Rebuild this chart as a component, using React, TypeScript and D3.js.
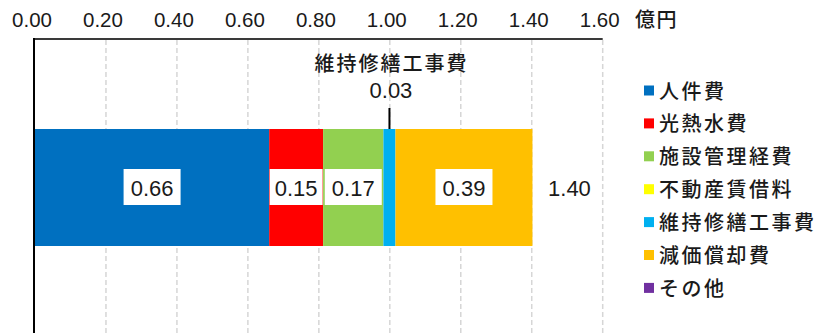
import React from "react";
import * as d3 from "d3";

const categories = ["合計"];
const seriesNames = ["人件費", "光熱水費", "施設管理経費", "不動産賃借料", "維持修繕工事費", "減価償却費", "その他"];
const seriesValues = [0.66, 0.152, 0.17, 0, 0.034, 0.386, 0];
const seriesColors = ["#0070C0", "#FF0000", "#92D050", "#FFFF00", "#00B0F0", "#FFC000", "#7030A0"];
const xTicks = [0, 0.2, 0.4, 0.6, 0.8, 1.0, 1.2, 1.4, 1.6];
const unitLabel = "億円";
const calloutSeries = "維持修繕工事費";

const W = 816;
const H = 333;
const NUM_FONT = "'Liberation Sans', Arial, 'Noto Sans CJK JP', sans-serif";
const JP_FONT = "'Noto Sans CJK JP', 'Noto Sans', sans-serif";
const TEXT = "#1a1a1a";

export default function App() {
  const x = d3.scaleLinear().domain([0, 1.6]).range([35, 602.7]);
  const y = d3.scaleBand<string>().domain(categories).range([39, 336]).paddingInner(0.4348).paddingOuter(0.4348);

  const row: Record<string, any> = { cat: categories[0] };
  seriesNames.forEach((n, i) => (row[n] = seriesValues[i]));
  const stacked = d3.stack<any>().keys(seriesNames)([row]);
  const total = d3.sum(seriesValues);

  const by = y(categories[0]) as number;
  const bh = y.bandwidth();
  const cy = by + bh / 2;

  const legendX = 644;
  const legendY0 = 90.5;
  const legendStep = 32.9;

  return (
    <svg width={W} height={H} style={{ position: "absolute", left: 0, top: 0, background: "#fff" }}>
      {/* gridlines */}
      {xTicks.slice(1).map((t) => (
        <line key={"g" + t} x1={x(t)} x2={x(t)} y1={40} y2={H} stroke="#d6d6d6" strokeWidth={1.5} strokeDasharray="5,3" />
      ))}
      {/* bars */}
      {stacked.map((s, i) => {
        const d = s[0];
        const x0 = x(d[0]);
        const x1 = x(d[1]);
        if (x1 - x0 <= 0) return null;
        return <rect key={"b" + i} x={x0} y={by} width={x1 - x0} height={bh} fill={seriesColors[i]} />;
      })}
      {/* data labels */}
      {stacked.map((s, i) => {
        const d = s[0];
        const v = seriesValues[i];
        if (v <= 0 || seriesNames[i] === calloutSeries) return null;
        const x0 = x(d[0]);
        const x1 = x(d[1]);
        const cx = (x0 + x1) / 2;
        const bw = Math.min(57, x1 - x0 - 1);
        return (
          <g key={"l" + i}>
            <rect x={cx - bw / 2} y={cy - 18.5} width={bw} height={36} fill="#fff" />
            <text x={cx} y={cy + 8.5} textAnchor="middle" fontFamily={NUM_FONT} fontSize={22} fill={TEXT}>
              {v.toFixed(2)}
            </text>
          </g>
        );
      })}
      {/* callout */}
      {stacked.map((s, i) => {
        if (seriesNames[i] !== calloutSeries) return null;
        const d = s[0];
        const cx = (x(d[0]) + x(d[1])) / 2;
        return (
          <g key="callout">
            <line x1={cx} x2={cx} y1={108} y2={by} stroke="#000" strokeWidth={2} />
            <text x={cx + 1.5} y={98} textAnchor="middle" fontFamily={NUM_FONT} fontSize={22} fill={TEXT}>
              {seriesValues[i].toFixed(2)}
            </text>
            <text x={cx + 2} y={71} textAnchor="middle" fontFamily={JP_FONT} fontWeight={500} fontSize={20} letterSpacing={2} fill={TEXT}>
              {seriesNames[i]}
            </text>
          </g>
        );
      })}
      {/* total */}
      <text x={x(total) + 37} y={cy + 8.5} textAnchor="middle" fontFamily={NUM_FONT} fontSize={22} fill={TEXT}>
        {total.toFixed(2)}
      </text>
      {/* axes */}
      <line x1={34} x2={602.7} y1={39} y2={39} stroke="#3a3a3a" strokeWidth={2} />
      <line x1={34} x2={34} y1={38} y2={H} stroke="#000" strokeWidth={2} />
      {xTicks.map((t) => (
        <text key={"t" + t} x={x(t) - 3} y={27} textAnchor="middle" fontFamily={NUM_FONT} fontSize={20.5} fill={TEXT}>
          {t.toFixed(2)}
        </text>
      ))}
      <text x={635} y={27} fontFamily={JP_FONT} fontWeight={500} fontSize={20} letterSpacing={1.5} fill={TEXT}>
        {unitLabel}
      </text>
      {/* legend */}
      {seriesNames.map((n, i) => (
        <g key={"lg" + i}>
          <rect x={legendX} y={legendY0 + i * legendStep - 5} width={10} height={10} fill={seriesColors[i]} />
          <text x={legendX + 15} y={legendY0 + i * legendStep + 8} fontFamily={JP_FONT} fontWeight={500} fontSize={20} letterSpacing={2.5} fill={TEXT}>
            {n}
          </text>
        </g>
      ))}
    </svg>
  );
}
